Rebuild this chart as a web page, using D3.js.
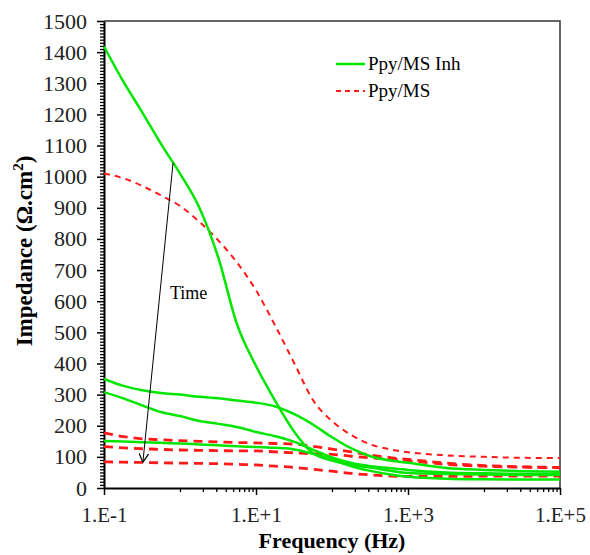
<!DOCTYPE html>
<html>
<head>
<meta charset="utf-8">
<script src="https://cdn.jsdelivr.net/npm/d3@7"></script>
<style>
  body { margin: 0; background: #fff; }
  text { font-family: "Liberation Serif", "Times New Roman", serif; }
</style>
</head>
<body>
<script>
// frequency points (Hz)
var freq = [0.1, 0.18, 0.32, 0.56, 1, 1.8, 3.2, 5.6, 10, 18, 32, 56, 100, 180, 320, 560, 1000, 3200, 10000, 32000, 100000];

// Ppy/MS Inh (green, solid)
var inh1 = [1418, 1305, 1206, 1106, 1010, 900, 739, 527, 392, 279, 180, 112, 88, 74, 66, 56, 48, 45, 43, 42, 42];
var inh2 = [350, 328, 314, 305, 300, 293, 288, 281, 274, 262, 237, 204, 163, 127, 102, 89, 81, 64, 58, 54, 52];
var inh3 = [308, 288, 265, 244, 231, 215, 206, 196, 180, 166, 148, 123, 98, 80, 70, 64, 58, 50, 47, 45, 44];
var inh4 = [151, 149, 147, 145, 143, 140, 137, 134, 132, 129, 124, 110, 92, 70, 55, 44, 36, 30, 28, 27, 27];

// Ppy/MS (red, dashed)
var ms1 = [1010, 995, 970, 940, 906, 855, 795, 725, 635, 520, 400, 283, 215, 170, 140, 125, 115, 105, 100, 97, 96];
var ms2 = [177, 165, 158, 155, 152, 150, 148, 146, 145, 143, 141, 134, 125, 116, 106, 98, 92, 80, 72, 68, 66];
var ms3 = [133, 129, 126, 124, 122, 121, 120, 119, 119, 116, 113, 110, 108, 102, 97, 93, 88, 76, 70, 67, 65];
var ms4 = [84, 83, 82, 81, 80, 79, 78, 76, 74, 70, 66, 60, 54, 47, 42, 39, 37, 37, 38, 38, 38];

var yTicks = d3.range(0, 1501, 100);
var xTicks = [0.1, 10, 1000, 100000];
var xTickLabels = ["1.E-1", "1.E+1", "1.E+3", "1.E+5"];

// arrow "Time": [freq, value] start and end
var timeArrow = [[0.81, 1044], [0.325, 83]];

var width = 590;
var height = 555;
var margin = ({ top: 21, right: 30, bottom: 67, left: 104 });

var svg = d3.select('body').append('svg')
    .attr('width', width)
    .attr('height', height);

var x = d3.scaleLog()
    .domain([0.1, 100000])
    .range([margin.left, width - margin.right]);

var y = d3.scaleLinear()
    .domain([0, 1500])
    .range([height - margin.bottom, margin.top]);

// plot border (top and right)
svg.append("path")
    .attr("d", `M${x(0.1)},${y(1500)}H${x(100000)}V${y(0)}`)
    .attr("fill", "none")
    .attr("stroke", "#333")
    .attr("stroke-width", 1.5);

// y axis with minor ticks
var yMinor = d3.range(0, 1501, 10).filter(d => d % 100 != 0);
svg.append("g")
    .attr("transform", `translate(${margin.left},0)`)
    .call(d3.axisLeft(y).tickValues(yMinor).tickSize(4).tickFormat(""))
    .call(g => g.select(".domain").remove())
    .call(g => g.selectAll("line").attr("stroke-width", 1.3));

svg.append("g")
    .attr("transform", `translate(${margin.left},0)`)
    .call(d3.axisLeft(y).tickValues(yTicks).tickSize(7).tickPadding(10).tickSizeOuter(0)
        .tickFormat(d3.format("d")))
    .call(g => g.select(".domain").attr("stroke-width", 2))
    .call(g => g.selectAll("line").attr("stroke-width", 1.5))
    .call(g => g.selectAll("text")
        .attr("font-size", 22)
        .attr("font-family", "Liberation Serif")
        .attr("fill", "#222"));

// x axis: Excel style log axis with base 100
var xMinor = [];
[1, 100, 10000].forEach(function (b) {
    d3.range(1, 10).forEach(function (m) { xMinor.push(b * m); });
});
svg.append("g")
    .attr("transform", `translate(0,${height - margin.bottom})`)
    .call(d3.axisBottom(x).tickValues(xMinor).tickSize(4).tickFormat(""))
    .call(g => g.select(".domain").remove())
    .call(g => g.selectAll("line").attr("stroke-width", 1.3));

svg.append("g")
    .attr("transform", `translate(0,${height - margin.bottom})`)
    .call(d3.axisBottom(x).tickValues(xTicks).tickSize(7).tickPadding(12).tickSizeOuter(0)
        .tickFormat((d, i) => xTickLabels[i]))
    .call(g => g.select(".domain").attr("stroke-width", 2))
    .call(g => g.selectAll("line").attr("stroke-width", 1.5))
    .call(g => g.selectAll("text")
        .attr("font-size", 21)
        .attr("font-family", "Liberation Serif")
        .attr("fill", "#222"));

// axis titles
svg.append("text")
    .attr("x", (x(0.1) + x(100000)) / 2)
    .attr("y", 548)
    .attr("text-anchor", "middle")
    .attr("font-size", 22)
    .attr("font-weight", "bold")
    .text("Frequency (Hz)");

var yl = svg.append("text")
    .attr("transform", "translate(32,251) rotate(-90)")
    .attr("text-anchor", "middle")
    .attr("font-size", 23)
    .attr("font-weight", "bold");
yl.append("tspan").text("Impedance (Ω.cm");
yl.append("tspan").attr("dy", -9).attr("font-size", 15).text("2");
yl.append("tspan").attr("dy", 9).text(")");

// curves
var line = d3.line()
    .x((d, i) => x(freq[i]))
    .y(d => y(d))
    .curve(d3.curveMonotoneX);

var series = [
    { values: ms1, color: "#ff1a1a", width: 2, dash: "6,5" },
    { values: ms2, color: "#ff1a1a", width: 2.8, dash: "9,6" },
    { values: ms3, color: "#ff1a1a", width: 2.8, dash: "9,6" },
    { values: ms4, color: "#ff1a1a", width: 2.8, dash: "9,6" },
    { values: inh1, color: "#00e600", width: 2.5, dash: null },
    { values: inh2, color: "#00e600", width: 2.5, dash: null },
    { values: inh3, color: "#00e600", width: 2.5, dash: null },
    { values: inh4, color: "#00e600", width: 2.5, dash: null }
];

svg.append("g")
    .selectAll("path")
    .data(series)
    .enter()
    .append("path")
    .attr("d", d => line(d.values))
    .attr("fill", "none")
    .attr("stroke", d => d.color)
    .attr("stroke-width", d => d.width)
    .attr("stroke-dasharray", d => d.dash);

// time arrow
svg.append("defs").append("marker")
    .attr("id", "head")
    .attr("viewBox", "0 0 10 10")
    .attr("refX", 9)
    .attr("refY", 5)
    .attr("markerWidth", 10)
    .attr("markerHeight", 10)
    .attr("markerUnits", "userSpaceOnUse")
    .attr("orient", "auto")
    .append("path")
    .attr("d", "M0,0L9,5L0,10")
    .attr("fill", "none")
    .attr("stroke", "#000")
    .attr("stroke-width", 1.2);

svg.append("line")
    .attr("x1", x(timeArrow[0][0]))
    .attr("y1", y(timeArrow[0][1]))
    .attr("x2", x(timeArrow[1][0]))
    .attr("y2", y(timeArrow[1][1]))
    .attr("stroke", "#000")
    .attr("stroke-width", 1)
    .attr("marker-end", "url(#head)");

svg.append("text")
    .attr("x", 170)
    .attr("y", 299)
    .attr("font-size", 18)
    .text("Time");

// legend
var legend = [
    { label: "Ppy/MS Inh", color: "#00e600", width: 2.5, dash: null },
    { label: "Ppy/MS", color: "#ff1a1a", width: 1.8, dash: "5,4" }
];

var lg = svg.append("g")
    .selectAll("g")
    .data(legend)
    .enter()
    .append("g")
    .attr("transform", (d, i) => `translate(336,${64 + i * 27})`);

lg.append("line")
    .attr("x1", 0)
    .attr("x2", 29)
    .attr("stroke", d => d.color)
    .attr("stroke-width", d => d.width)
    .attr("stroke-dasharray", d => d.dash);

lg.append("text")
    .attr("x", 32)
    .attr("y", 6)
    .attr("font-size", 19)
    .text(d => d.label);
</script>
</body>
</html>
